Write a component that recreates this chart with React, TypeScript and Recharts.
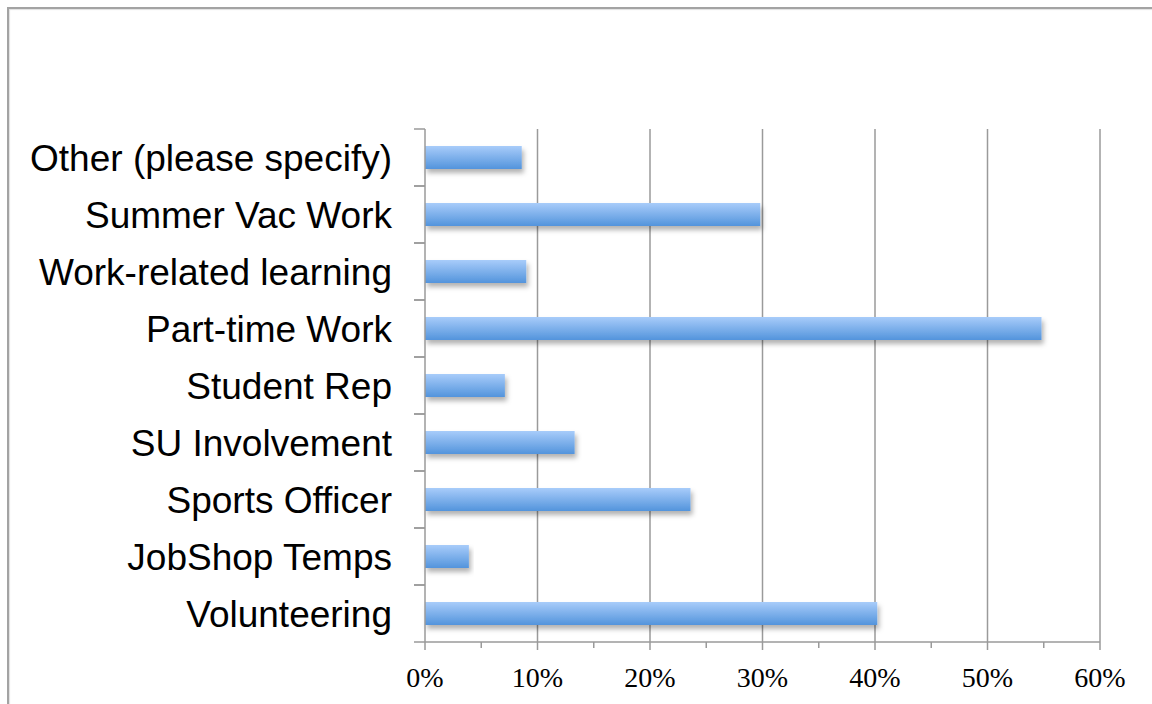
import React from 'react';
import { BarChart, Bar, XAxis, YAxis, CartesianGrid } from 'recharts';

const categories = [
  'Other (please specify)',
  'Summer Vac Work',
  'Work-related learning',
  'Part-time Work',
  'Student Rep',
  'SU Involvement',
  'Sports Officer',
  'JobShop Temps',
  'Volunteering',
];

const shares = [8.6, 29.8, 9.0, 54.8, 7.1, 13.3, 23.6, 3.9, 40.2];

const xTicks = [0, 5, 10, 15, 20, 25, 30, 35, 40, 45, 50, 55, 60];
const gridValues = [10, 20, 30, 40, 50, 60];

const data = categories.map((name, i) => ({ name, value: shares[i] }));

const GRAY = '#9a9a9a';
const W = 1152;
const H = 704;
const TOP = 129;
const X_AXIS_H = 62;

// category labels plus the boundary ticks between bands
const CategoryTick = (props: any) => {
  const { x, y, payload } = props;
  const half = payload.offset ?? (H - TOP - X_AXIS_H) / categories.length / 2;
  return (
    <g>
      <line x1={x - 11} x2={x} y1={y - half} y2={y - half} stroke={GRAY} strokeWidth={1.5} />
      <line x1={x - 11} x2={x} y1={y + half} y2={y + half} stroke={GRAY} strokeWidth={1.5} />
      <text
        x={x - 33}
        y={y + 13}
        textAnchor="end"
        fontFamily="'Liberation Sans', Arial, sans-serif"
        fontSize={37}
        fill="#000"
      >
        {payload.value}
      </text>
    </g>
  );
};

// major ticks every 10% with labels, minor ticks in between
const PercentTick = (props: any) => {
  const { x, y, payload } = props;
  const major = payload.value % 10 === 0;
  return (
    <g>
      <line x1={x} x2={x} y1={y} y2={y + (major ? 8 : 6)} stroke={GRAY} strokeWidth={1.5} />
      {major && (
        <text
          x={x}
          y={y + 45}
          textAnchor="middle"
          fontFamily="'Liberation Serif', 'Times New Roman', serif"
          fontSize={28}
          fill="#000"
        >
          {`${payload.value}%`}
        </text>
      )}
    </g>
  );
};

export default function App() {
  return (
    <div style={{ position: 'absolute', left: 0, top: 0, width: W, height: H, background: '#fff', overflow: 'hidden' }}>
      <div
        style={{
          position: 'absolute',
          left: 7,
          top: 7,
          width: W + 20,
          height: H + 20,
          border: '2px solid #a3a3a3',
          boxShadow: 'inset 1px 1px 1px #e0e0e0',
        }}
      />
      <div style={{ position: 'absolute', left: 0, top: 0 }}>
        <BarChart
          width={W}
          height={H}
          data={data}
          layout="vertical"
          margin={{ top: TOP, right: 52, bottom: 0, left: 0 }}
        >
          <defs>
            <linearGradient id="barFill" x1="0" y1="0" x2="0" y2="1">
              <stop offset="0%" stopColor="#a8ccfa" />
              <stop offset="100%" stopColor="#5394dc" />
            </linearGradient>
            <filter id="barShadow" x="-5%" y="-30%" width="115%" height="180%">
              <feDropShadow dx="2" dy="4" stdDeviation="2.5" floodColor="#000" floodOpacity="0.3" />
            </filter>
          </defs>
          <CartesianGrid horizontal={false} verticalValues={gridValues} stroke={GRAY} strokeWidth={1.5} />
          <XAxis
            type="number"
            domain={[0, 60]}
            ticks={xTicks}
            interval={0}
            height={X_AXIS_H}
            tickLine={false}
            tickSize={0}
            tickMargin={0}
            axisLine={{ stroke: GRAY, strokeWidth: 1.5 }}
            tick={<PercentTick />}
          />
          <YAxis
            type="category"
            dataKey="name"
            width={425}
            interval={0}
            tickLine={false}
            tickSize={0}
            tickMargin={0}
            axisLine={{ stroke: GRAY, strokeWidth: 1.5 }}
            tick={<CategoryTick />}
          />
          <Bar
            dataKey="value"
            barSize={23}
            fill="url(#barFill)"
            filter="url(#barShadow)"
            isAnimationActive={false}
          />
        </BarChart>
      </div>
    </div>
  );
}
